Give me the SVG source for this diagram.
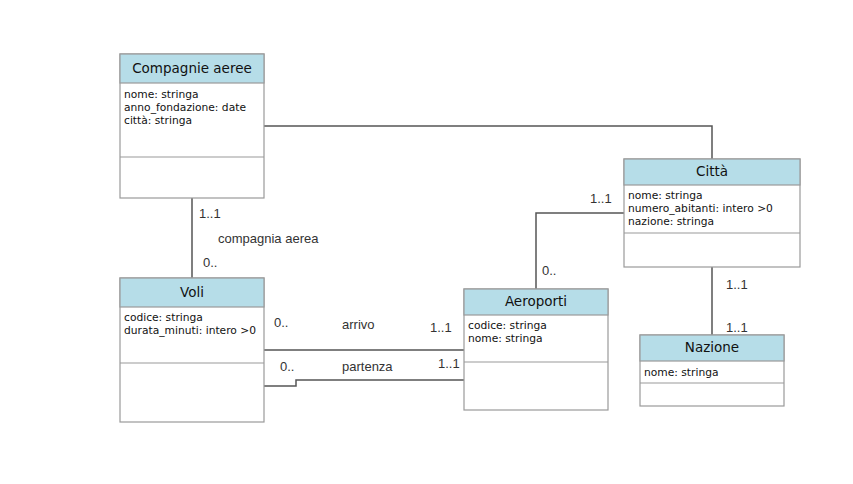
<svg xmlns="http://www.w3.org/2000/svg" width="853" height="484" viewBox="0 0 853 484">
<style>
.box{fill:#ffffff;stroke:#9a9a9a;stroke-width:1.2}
.hdr{fill:#b6dde8;stroke:#9a9a9a;stroke-width:1.2}
.div{stroke:#9a9a9a;stroke-width:1.2}
.title{font-family:"DejaVu Sans",sans-serif;font-size:13.5px;fill:#111;text-anchor:middle}
.attr{font-family:"DejaVu Sans",sans-serif;font-size:10.7px;fill:#111}
.lbl{font-family:"Liberation Sans",Arial,sans-serif;font-size:13px;fill:#333}
.conn{fill:none;stroke:#555;stroke-width:1.5}
</style>
<rect width="853" height="484" fill="#ffffff"/>
<g id="connectors">
<path class="conn" d="M264,126 H712 V159"/>
<path class="conn" d="M192,198 V278"/>
<path class="conn" d="M264,350 H464"/>
<path class="conn" d="M264,386 H296 V380 H464"/>
<path class="conn" d="M624,213 H536 V289"/>
<path class="conn" d="M712,267 V335"/>
<text class="lbl" x="199" y="218">1..1</text>
<text class="lbl" x="218" y="243">compagnia aerea</text>
<text class="lbl" x="203" y="267">0..</text>
<text class="lbl" x="274" y="327">0..</text>
<text class="lbl" x="342" y="329">arrivo</text>
<text class="lbl" x="430" y="332">1..1</text>
<text class="lbl" x="280" y="371">0..</text>
<text class="lbl" x="342" y="371">partenza</text>
<text class="lbl" x="438" y="368">1..1</text>
<text class="lbl" x="590" y="203">1..1</text>
<text class="lbl" x="542" y="275">0..</text>
<text class="lbl" x="726" y="289">1..1</text>
<text class="lbl" x="726" y="332">1..1</text>
</g>
<g id="compagnie">
<rect class="box" x="120" y="54" width="144" height="144"/>
<rect class="hdr" x="120" y="54" width="144" height="29"/>
<line class="div" x1="120" y1="157" x2="264" y2="157"/>
<text class="title" x="192" y="73">Compagnie aeree</text>
<text class="attr" x="124" y="98">nome: stringa</text>
<text class="attr" x="124" y="111">anno_fondazione: date</text>
<text class="attr" x="124" y="124">città: stringa</text>
</g>
<g id="voli">
<rect class="box" x="120" y="278" width="144" height="144"/>
<rect class="hdr" x="120" y="278" width="144" height="29"/>
<line class="div" x1="120" y1="363" x2="264" y2="363"/>
<text class="title" x="192" y="297">Voli</text>
<text class="attr" x="124" y="321">codice: stringa</text>
<text class="attr" x="124" y="334">durata_minuti: intero &gt;0</text>
</g>
<g id="aeroporti">
<rect class="box" x="464" y="289" width="144" height="121"/>
<rect class="hdr" x="464" y="289" width="144" height="26"/>
<line class="div" x1="464" y1="362" x2="608" y2="362"/>
<text class="title" x="536" y="306">Aeroporti</text>
<text class="attr" x="468" y="329">codice: stringa</text>
<text class="attr" x="468" y="342">nome: stringa</text>
</g>
<g id="citta">
<rect class="box" x="624" y="159" width="176" height="108"/>
<rect class="hdr" x="624" y="159" width="176" height="26"/>
<line class="div" x1="624" y1="233" x2="800" y2="233"/>
<text class="title" x="712" y="176">Città</text>
<text class="attr" x="628" y="199">nome: stringa</text>
<text class="attr" x="628" y="212">numero_abitanti: intero &gt;0</text>
<text class="attr" x="628" y="225">nazione: stringa</text>
</g>
<g id="nazione">
<rect class="box" x="640" y="335" width="144" height="71"/>
<rect class="hdr" x="640" y="335" width="144" height="26"/>
<line class="div" x1="640" y1="383" x2="784" y2="383"/>
<text class="title" x="712" y="352">Nazione</text>
<text class="attr" x="644" y="376">nome: stringa</text>
</g>
</svg>
